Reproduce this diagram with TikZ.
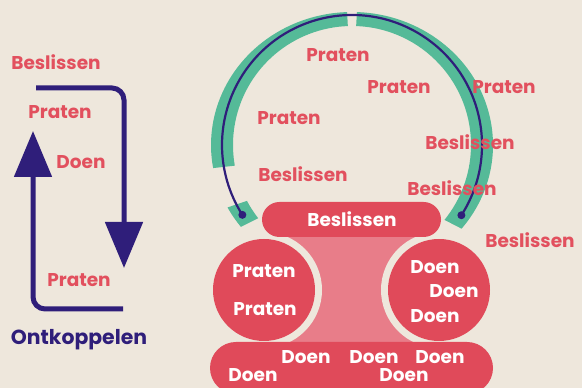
\documentclass[tikz,border=0pt]{standalone}
\usepackage{fontspec}
\setmainfont{Poppins}
\usetikzlibrary{arrows.meta,positioning,calc}
\definecolor{paper}{HTML}{EEE7DC}
\definecolor{talkred}{HTML}{E2505E}
\definecolor{blockred}{HTML}{E04A5A}
\definecolor{softpink}{HTML}{E87D89}
\definecolor{loopteal}{HTML}{55BA98}
\definecolor{loopblue}{HTML}{2F1E7A}

\newcommand{\tealband}[2]{%
  \fill[loopteal] ($(mid)+(#1:141 and 133)$) arc[start angle=#1, end angle=#2, x radius=141, y radius=133]
    -- ($(mid)+(#2:119)$) arc[start angle=#2, end angle=#1, radius=119] -- cycle;}

\begin{document}
\begin{tikzpicture}[x=1pt, y=1pt,
  word/.style={font=\fontsize{18.5}{21}\selectfont\bfseries, text=talkred, inner sep=0pt, text depth=0pt},
  inword/.style={word, text=white},
  flow/.style={-{Triangle[length=46pt, width=37pt]}, line width=5pt, loopblue, rounded corners=12pt},
]
  \fill[paper] (0,0) rectangle (582,388);
  \clip (0,0) rectangle (582,388);

  % left loop
  \coordinate (topstart) at (36,300);
  \coordinate (topturn) at (124,300);
  \coordinate (downtip) at (124,120);
  \coordinate (botstart) at (123,79);
  \coordinate (botturn) at (33,79);
  \coordinate (uptip) at (33,257);
  \draw[flow] (topstart) -- (topturn) -- (downtip);
  \draw[flow] (botstart) -- (botturn) -- (uptip);

  \node[word] (lbes) at (56,326) {Beslissen};
  \node[word] (lprat) at (60,276) {Praten};
  \node[word] (ldoen) at (81,226) {Doen};
  \node[word] (lprat2) at (79,108) {Praten};
  \node[word, text=loopblue, font=\fontsize{20.4}{23}\selectfont\bfseries, anchor=base] (ontk) at (79,43) {Ontkoppelen};

  % arc
  \coordinate (mid) at (352,243);
  \tealband{-39}{88}
  \tealband{92}{190}
  \tealband{208}{218}
  \draw[loopblue, line width=2.2pt] ($(mid)+(-32.7:130)$) coordinate (rend) arc[start angle=-32.7, end angle=212.5, radius=130] coordinate (lend);
  \fill[loopblue] (rend) circle (4);
  \fill[loopblue] (lend) circle (4);

  % block
  \fill[softpink] (287,43) rectangle (422,158);
  \fill[paper] (264,98) circle (58);
  \fill[paper] (439,98) circle (58);
  \fill[blockred] (264,98) circle (51);
  \fill[blockred] (439,98) circle (51);
  \fill[blockred, rounded corners=17.5pt] (262,151) rectangle (441,186);
  \fill[blockred, rounded corners=26pt] (210,-6) rectangle (493,46);

  \node[inword] (pillbes) at (352,169) {Beslissen};
  \node[inword] (cprat1) at (264,117) {Praten};
  \node[inword] (cprat2) at (265,79) {Praten};
  \node[inword] (cdoen1) at (435,121) {Doen};
  \node[inword] (cdoen2) at (454,97) {Doen};
  \node[inword] (cdoen3) at (435,72) {Doen};
  \node[inword] (bdoen1) at (306,31) {Doen};
  \node[inword] (bdoen2) at (374,31) {Doen};
  \node[inword] (bdoen3) at (440,31) {Doen};
  \node[inword] (bdoen4) at (253,12.5) {Doen};
  \node[inword] (bdoen5) at (404,12.5) {Doen};

  % words round the arc
  \node[word] (aprat1) at (338,333) {Praten};
  \node[word] (aprat2) at (399,301) {Praten};
  \node[word] (aprat3) at (504,301) {Praten};
  \node[word] (aprat4) at (289,270) {Praten};
  \node[word] (abes1) at (470,246) {Beslissen};
  \node[word] (abes2) at (303,214) {Beslissen};
  \node[word] (abes3) at (452,200) {Beslissen};
  \node[word] (abes4) at (530,148) {Beslissen};
\end{tikzpicture}
\end{document}
